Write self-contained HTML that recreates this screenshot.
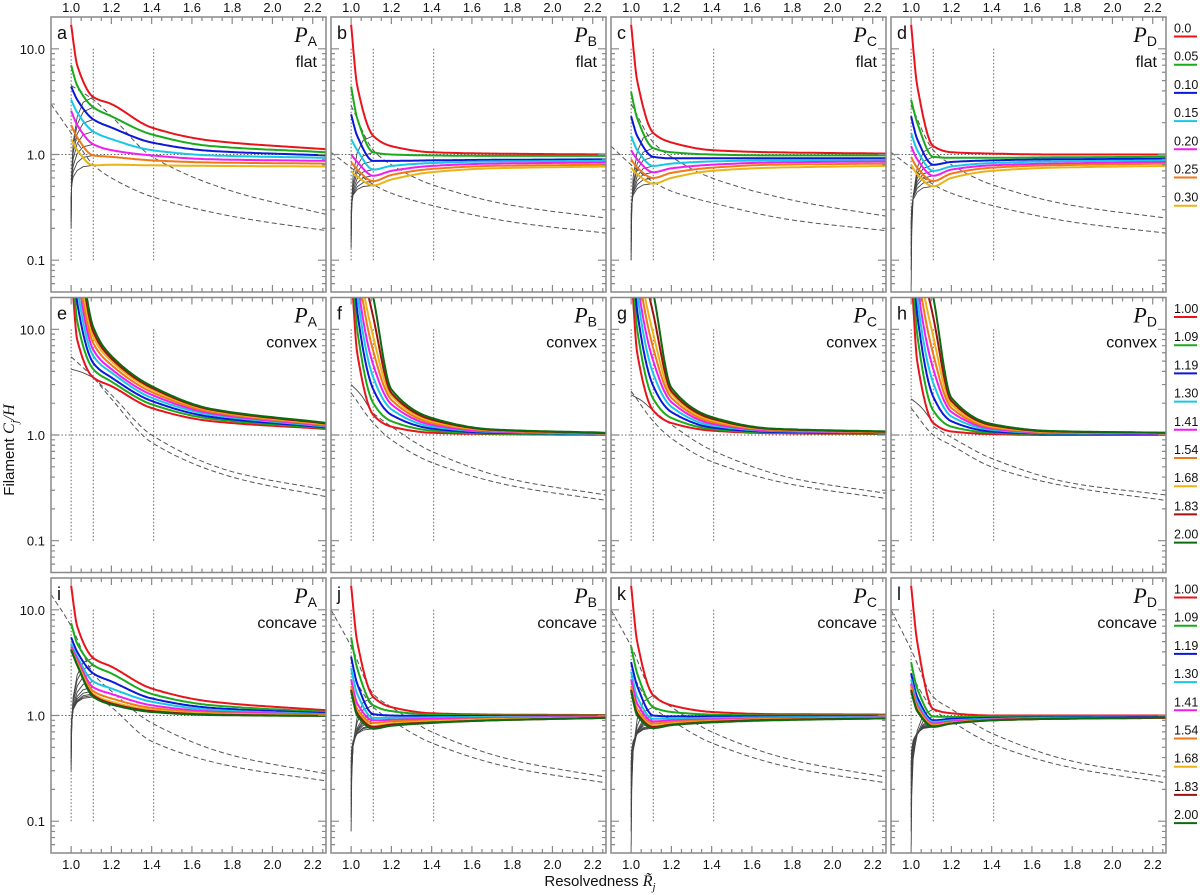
<!DOCTYPE html>
<html><head><meta charset="utf-8"><style>
html,body{margin:0;padding:0;background:#fff;}
svg{display:block;font-family:"Liberation Sans",sans-serif;}
</style></head><body>
<svg id="chart" width="1200" height="895" viewBox="0 0 1200 895" xmlns="http://www.w3.org/2000/svg"></svg>
<script>
// ---- data ----
const keyX = [1.0, 1.03, 1.11, 1.2, 1.4, 1.7, 2.27];
const colorsRow1 = ["#e8141c","#1aab1a","#0b17d9","#16c8e6","#f01ef0","#f07818","#e8b418"];
const colorsRow23 = ["#e8141c","#1aab1a","#0b17d9","#16c8e6","#f01ef0","#f07818","#e8b418","#a01010","#0c6a12"];
const legendRow1 = ["0.0","0.05","0.10","0.15","0.20","0.25","0.30"];
const legendRow23 = ["1.00","1.09","1.19","1.30","1.41","1.54","1.68","1.83","2.00"];
const xTicks = [1.0,1.2,1.4,1.6,1.8,2.0,2.2];
const yTicks = [0.1,1.0,10.0];
const yTickLabels = ["0.1","1.0","10.0"];
const panelLetters = ["a","b","c","d","e","f","g","h","i","j","k","l"];
const panelP = ["A","B","C","D","A","B","C","D","A","B","C","D"];
const panelShape = ["flat","flat","flat","flat","convex","convex","convex","convex","concave","concave","concave","concave"];
const dashX = [0.9, 1.0, 1.11, 1.2, 1.4, 1.8, 2.27];

const seriesA = [[17,7,3.5,3.0,1.8,1.35,1.12],[7,4.5,2.8,2.3,1.55,1.2,1.05],[4.4,3.3,2.15,1.8,1.3,1.08,0.98],[3.3,2.5,1.65,1.4,1.1,0.98,0.93],[2.6,1.9,1.25,1.1,0.98,0.9,0.87],[1.9,1.45,0.98,0.95,0.88,0.84,0.82],[1.4,1.1,0.79,0.8,0.79,0.78,0.77]];
const seriesB = [[17,4.5,1.5,1.2,1.05,1.02,1.0],[4.4,2.2,1.05,1.0,0.98,0.97,0.97],[2.4,1.5,0.87,0.87,0.88,0.89,0.9],[1.4,1.1,0.72,0.78,0.83,0.86,0.87],[1.0,0.85,0.63,0.7,0.78,0.82,0.84],[0.85,0.72,0.56,0.64,0.73,0.78,0.8],[0.7,0.62,0.51,0.58,0.68,0.74,0.77]];
const seriesC = [[17,5,1.6,1.3,1.1,1.05,1.02],[3.9,2.2,1.15,1.05,1.0,0.98,0.98],[2.3,1.5,0.95,0.92,0.92,0.92,0.92],[1.5,1.1,0.78,0.82,0.86,0.88,0.89],[1.1,0.9,0.68,0.74,0.8,0.84,0.86],[0.9,0.75,0.6,0.67,0.75,0.8,0.82],[0.75,0.65,0.53,0.6,0.7,0.75,0.78]];
const seriesD = [[17,4.5,1.2,1.05,1.02,1.0,1.0],[3.3,2,0.95,0.93,0.93,0.94,0.95],[2.3,1.4,0.8,0.85,0.88,0.9,0.91],[1.6,1.1,0.7,0.77,0.83,0.86,0.88],[1.2,0.9,0.63,0.72,0.79,0.82,0.85],[0.95,0.75,0.56,0.66,0.75,0.79,0.82],[0.8,0.65,0.5,0.6,0.7,0.75,0.78]];
const seriesE = [[40,8,3.5,2.9,1.8,1.35,1.14],[80,12,4.2,3.2,1.95,1.42,1.16],[120,18,4.8,3.5,2.1,1.48,1.18],[160,25,5.6,3.9,2.25,1.55,1.2],[200,35,6.4,4.2,2.4,1.6,1.22],[250,45,7.4,4.6,2.55,1.65,1.24],[300,60,8.5,5.0,2.7,1.7,1.26],[350,80,9.5,5.3,2.8,1.73,1.28],[400,100,10.5,5.6,2.9,1.76,1.3]];
const seriesF = [[40,6,1.55,1.2,1.05,1.02,1.0],[80,10,2.0,1.35,1.1,1.03,1.01],[120,15,2.7,1.55,1.15,1.05,1.02],[160,22,3.5,1.75,1.2,1.07,1.02],[200,30,4.6,1.95,1.25,1.08,1.03],[300,45,6.2,2.15,1.3,1.1,1.03],[400,60,8.5,2.35,1.35,1.11,1.04],[500,80,13,2.5,1.4,1.12,1.04],[600,100,20,2.7,1.45,1.13,1.05]];
const seriesG = [[40,6,1.7,1.3,1.1,1.04,1.02],[80,10,2.2,1.45,1.14,1.05,1.03],[120,15,2.9,1.65,1.18,1.07,1.04],[160,22,3.8,1.85,1.23,1.09,1.05],[200,30,5.0,2.05,1.28,1.1,1.05],[300,45,6.6,2.25,1.33,1.12,1.06],[400,60,9,2.45,1.38,1.13,1.06],[500,80,14,2.6,1.43,1.14,1.07],[600,100,22,2.8,1.48,1.15,1.08]];
const seriesH = [[40,5,1.3,1.08,1.02,1.0,1.0],[80,9,1.7,1.2,1.05,1.02,1.01],[120,14,2.3,1.35,1.08,1.03,1.02],[160,20,3.1,1.5,1.12,1.04,1.03],[200,28,4.2,1.65,1.15,1.05,1.03],[300,42,5.8,1.8,1.18,1.06,1.04],[400,58,8.5,1.95,1.21,1.07,1.04],[500,78,13,2.1,1.24,1.08,1.05],[600,100,20,2.25,1.27,1.09,1.05]];
const seriesI = [[17,7,3.5,2.9,1.8,1.35,1.12],[7.5,4.8,3.0,2.5,1.6,1.25,1.08],[5.5,4.0,2.5,2.1,1.45,1.18,1.05],[4.8,3.6,2.1,1.8,1.35,1.13,1.03],[4.5,3.4,1.85,1.6,1.25,1.09,1.02],[4.3,3.2,1.7,1.45,1.18,1.06,1.01],[4.2,3.1,1.6,1.35,1.13,1.04,1.0],[4.2,3.0,1.55,1.3,1.1,1.02,0.99],[4.2,3.0,1.5,1.27,1.08,1.01,0.99]];
const seriesJ = [[17,5,1.5,1.2,1.05,1.02,1.01],[5.5,2.8,1.25,1.1,1.02,1.0,1.0],[3.6,2.0,1.03,1.0,0.99,0.99,0.99],[2.8,1.6,0.95,0.95,0.96,0.97,0.98],[2.2,1.3,0.9,0.91,0.93,0.95,0.97],[1.9,1.15,0.85,0.88,0.9,0.93,0.96],[1.8,1.1,0.8,0.84,0.88,0.92,0.95],[1.75,1.05,0.78,0.82,0.86,0.9,0.95],[1.7,1.0,0.75,0.8,0.85,0.9,0.95]];
const seriesK = [[17,5,1.55,1.25,1.08,1.03,1.02],[4.5,2.5,1.2,1.08,1.02,1.0,1.0],[3.2,1.9,1.0,0.98,0.98,0.98,0.98],[2.6,1.5,0.93,0.93,0.95,0.96,0.97],[2.2,1.3,0.88,0.9,0.92,0.94,0.96],[1.9,1.15,0.84,0.87,0.9,0.93,0.95],[1.8,1.1,0.8,0.84,0.88,0.92,0.95],[1.75,1.05,0.78,0.82,0.87,0.91,0.94],[1.7,1.0,0.76,0.81,0.86,0.9,0.94]];
const seriesL = [[17,5,1.15,1.05,1.0,1.0,1.0],[3.2,1.8,0.98,0.97,0.98,0.98,0.99],[2.5,1.5,0.9,0.93,0.95,0.96,0.97],[2.2,1.35,0.87,0.9,0.93,0.95,0.96],[2.0,1.25,0.84,0.88,0.92,0.94,0.96],[1.9,1.2,0.82,0.86,0.91,0.93,0.95],[1.8,1.15,0.8,0.85,0.9,0.93,0.95],[1.75,1.12,0.79,0.84,0.9,0.93,0.95],[1.7,1.1,0.78,0.84,0.9,0.93,0.96]];

const grayA = [0.2,0.23,0.26,0.29,0.32,0.35,0.38];
const grayB = [0.13,0.15,0.17,0.2,0.22,0.25,0.28];
const grayC = [0.1,0.12,0.15,0.18,0.2,0.23,0.26];
const grayD = [0.05,0.08,0.11,0.14,0.17,0.2,0.22];
const grayE = [4.2];
const grayF = [3.0];
const grayG = [2.4];
const grayH = [2.2];
const grayI = [0.3,0.35,0.4,0.45,0.5,0.55,0.6,0.65,0.7];
const grayJ = [0.08,0.11,0.14,0.17,0.2,0.24,0.28,0.32,0.36];
const grayK = [0.05,0.08,0.11,0.14,0.18,0.22,0.26,0.3,0.34];
const grayL = [0.05,0.08,0.11,0.14,0.18,0.22,0.26,0.3,0.34];

const dashA = [[null,4.5,3.3,2.3,0.96,0.45,0.27],[3.0,1.6,0.8,0.6,0.4,0.26,0.19]];
const dashB = [[null,2.9,1.1,0.8,0.52,0.33,0.25],[1.05,0.75,0.52,0.43,0.33,0.23,0.18]];
const dashC = [[null,3.0,1.3,0.95,0.6,0.37,0.26],[1.2,0.8,0.55,0.45,0.35,0.24,0.19]];
const dashD = [[null,2.9,1.1,0.8,0.52,0.33,0.25],[1.05,0.75,0.52,0.43,0.33,0.23,0.18]];
const dashE = [[null,null,3.5,2.4,1.0,0.45,0.3],[null,5.5,3.5,2.2,0.85,0.4,0.26]];
const dashF = [[null,null,1.6,1.2,0.7,0.38,0.27],[null,2.5,1.3,0.9,0.55,0.33,0.24]];
const dashG = [[null,null,1.7,1.25,0.72,0.39,0.28],[null,2.6,1.35,0.93,0.56,0.34,0.25]];
const dashH = [[null,null,1.2,0.95,0.6,0.35,0.27],[null,1.8,1.0,0.8,0.5,0.32,0.24]];
const dashI = [[14,7,2.5,1.7,0.85,0.42,0.28],[null,null,1.6,1.2,0.57,0.33,0.24]];
const dashJ = [[10,4.5,1.6,1.2,0.7,0.38,0.26],[null,2.5,1.2,0.9,0.55,0.32,0.23]];
const dashK = [[10,4.5,1.6,1.2,0.7,0.38,0.26],[null,2.5,1.2,0.9,0.55,0.32,0.23]];
const dashL = [[10,4.2,1.5,1.15,0.68,0.37,0.26],[null,2.4,1.15,0.88,0.54,0.32,0.23]];

const allSeries = [seriesA,seriesB,seriesC,seriesD,seriesE,seriesF,seriesG,seriesH,seriesI,seriesJ,seriesK,seriesL];
const allGray = [grayA,grayB,grayC,grayD,grayE,grayF,grayG,grayH,grayI,grayJ,grayK,grayL];
const allDash = [dashA,dashB,dashC,dashD,dashE,dashF,dashG,dashH,dashI,dashJ,dashK,dashL];

// ---- layout ----
const NS = "http://www.w3.org/2000/svg";
const svg = document.getElementById("chart");
const colL = [51,331,611,891], rowT = [17,297.5,578], PW = 275, PH = 275;
const XMIN = 0.9, XMAX = 2.266, LMIN = -1.301, LMAX = 1.301;
function el(tag, attrs, parent){const e=document.createElementNS(NS,tag);for(const k in attrs)e.setAttribute(k,attrs[k]);(parent||svg).appendChild(e);return e;}
function monotone(xs, ys, n){
  const m=xs.length, d=[], s=[];
  for(let i=0;i<m-1;i++) d.push((ys[i+1]-ys[i])/(xs[i+1]-xs[i]));
  s[0]=d[0]; s[m-1]=d[m-2];
  for(let i=1;i<m-1;i++){ s[i]=(d[i-1]*d[i]<=0)?0:(2/(1/d[i-1]+1/d[i])); }
  const out=[];
  for(let i=0;i<m-1;i++){
    const h=xs[i+1]-xs[i];
    for(let k=0;k<n;k++){
      const t=k/n, t2=t*t, t3=t2*t;
      const y=(2*t3-3*t2+1)*ys[i]+(t3-2*t2+t)*h*s[i]+(-2*t3+3*t2)*ys[i+1]+(t3-t2)*h*s[i+1];
      out.push([xs[i]+t*h,y]);
    }
  }
  out.push([xs[m-1],ys[m-1]]);
  return out;
}

for(let p=0;p<12;p++){
  const r=Math.floor(p/4), c=p%4;
  const L=colL[c], T=rowT[r];
  const sx=v=>L+(v-XMIN)/(XMAX-XMIN)*PW;
  const sy=v=>T+(LMAX-Math.log10(v))/(LMAX-LMIN)*PH;
  const syl=l=>T+(LMAX-l)/(LMAX-LMIN)*PH;
  const g=el("g",{});
  
  
  const cp=el("clipPath",{id:"cp"+p},g);
  el("rect",{x:L,y:T,width:PW,height:PH},cp);
  const plot=el("g",{"clip-path":"url(#cp"+p+")"},g);
  // reference dotted lines
  [1.0,1.11,1.41].forEach(v=>{
    const ln=el("line",{x1:sx(v),x2:sx(v),y1:sy(10),y2:sy(0.1),stroke:"#666","stroke-width":1,"stroke-dasharray":"1.5,2"},plot);
    
    
  });
  const hl=el("line",{x1:L,x2:L+PW,y1:sy(1),y2:sy(1),stroke:"#666","stroke-width":1,"stroke-dasharray":"1.5,2"},plot);
  
  
  // dashed curves
  allDash[p].forEach(ds=>{
    const xs=[],ys=[];
    ds.forEach((v,i)=>{if(v!==null){xs.push(dashX[i]);ys.push(Math.log10(v));}});
    const pts=monotone(xs,ys,20);
    const path=el("path",{d:"M"+pts.map(q=>sx(q[0]).toFixed(1)+","+syl(q[1]).toFixed(1)).join("L"),fill:"none",stroke:"#555","stroke-width":1,"stroke-dasharray":"5,3"},plot);
    
    
  });
  const ser=allSeries[p];
  // gray curves
  const gr=allGray[p];
  gr.forEach((g0,i)=>{
    let d;
    if(r===1){
      const k=ser[0][2];
      const pts=monotone([1.0,1.05,1.11],[Math.log10(g0),Math.log10(g0)-0.35*(Math.log10(g0)-Math.log10(k)),Math.log10(k)],20);
      d="M"+pts.map(q=>sx(q[0]).toFixed(1)+","+syl(q[1]).toFixed(1)).join("L");
    } else {
      const lk=Math.log10(ser[i][2]), lg=Math.log10(g0);
      const fx=[1.0,1.003,1.01,1.03,1.06,1.11], ff=[1,0.6,0.35,0.15,0.04,0];
      d="M"+fx.map((x,j)=>sx(x).toFixed(1)+","+syl(lk+(lg-lk)*ff[j]).toFixed(1)).join("L");
    }
    const path=el("path",{d:d,fill:"none",stroke:"#444","stroke-width":0.9},plot);
    
    
  });
  // coloured series
  const cols = r===0?colorsRow1:colorsRow23;
  ser.forEach((vals,i)=>{
    const pts=monotone(keyX,vals.map(v=>Math.log10(v)),30);
    const path=el("path",{d:"M"+pts.map(q=>sx(q[0]).toFixed(1)+","+syl(Math.min(q[1],1.6)).toFixed(1)).join("L"),fill:"none",stroke:cols[i],"stroke-width":2},plot);
    
    
  });
  // frame
  const fr=el("rect",{x:L,y:T,width:PW,height:PH,fill:"none",stroke:"#888","stroke-width":1.5},g);
  
  
  // ticks
  let tk="";
  for(let v=1.0;v<=2.2501;v+=0.05){
    const major=Math.abs((v*10)%2)<0.01||Math.abs((v*10)%2-2)<0.01;
    const len=major?7:4, x=sx(v);
    tk+=`M${x},${T}v${len}M${x},${T+PH}v${-len}`;
  }
  for(let e=-2;e<=1;e++){
    for(let m=1;m<=9;m++){
      const l=e+Math.log10(m);
      if(l<LMIN||l>LMAX) continue;
      const len=m===1?8:4, y=syl(l);
      tk+=`M${L},${y}h${len}M${L+PW},${y}h${-len}`;
    }
  }
  el("path",{d:tk,stroke:"#888","stroke-width":1.2,fill:"none"},g);
  if(r===0){
    xTicks.forEach(v=>{const t=el("text",{x:sx(v),y:12,"font-size":13,"text-anchor":"middle",fill:"#111"},g);t.textContent=v.toFixed(1);
      });
  }
  if(r===2){
    xTicks.forEach(v=>{const t=el("text",{x:sx(v),y:T+PH+16,"font-size":13,"text-anchor":"middle",fill:"#111"},g);t.textContent=v.toFixed(1);
      });
  }
  if(c===0){
    yTicks.forEach((v,i)=>{const t=el("text",{x:L-6,y:sy(v)+5,"font-size":13,"text-anchor":"end",fill:"#111"},g);t.textContent=yTickLabels[i];
      });
  }
  const lt=el("text",{x:L+6,y:T+22,"font-size":18,fill:"#111"},g);lt.textContent=panelLetters[p];
  
  const pt=el("text",{x:L+PW-9,y:T+25,"text-anchor":"end",fill:"#111"},g);
  
  const t1=el("tspan",{"font-family":"Liberation Serif,serif","font-style":"italic","font-size":22},pt);t1.textContent="P";
  const t2=el("tspan",{"font-size":14,dy:4},pt);t2.textContent=panelP[p];
  const st=el("text",{x:L+PW-9,y:T+50,"text-anchor":"end","font-size":16,fill:"#111"},g);st.textContent=panelShape[p];
  
  // legend
  if(c===3){
    const labs=r===0?legendRow1:legendRow23;
    labs.forEach((lab,i)=>{
      const y=T+19.5+i*28.2;
      const t=el("text",{x:1174,y:y-4,"font-size":12.5,fill:"#111"},g);t.textContent=lab;
      
      const ln=el("line",{x1:1174,x2:1197,y1:y,y2:y,stroke:cols[i],"stroke-width":2},g);
      
    });
  }
}
const yt=el("text",{transform:"translate(14,450) rotate(-90)","text-anchor":"middle","font-size":15,fill:"#111"});

yt.innerHTML='Filament <tspan font-family="Liberation Serif,serif" font-style="italic" font-size="16">C</tspan><tspan font-family="Liberation Serif,serif" font-style="italic" font-size="11" dy="4">j</tspan><tspan dy="-4" font-family="Liberation Serif,serif" font-style="italic" font-size="16">/H</tspan>';
const xt=el("text",{x:600,y:886,"text-anchor":"middle","font-size":15,fill:"#111"});

xt.innerHTML='Resolvedness <tspan font-family="Liberation Serif,serif" font-style="italic" font-size="16">R̃</tspan><tspan font-family="Liberation Serif,serif" font-style="italic" font-size="11" dy="4">j</tspan>';
</script>
</body></html>
